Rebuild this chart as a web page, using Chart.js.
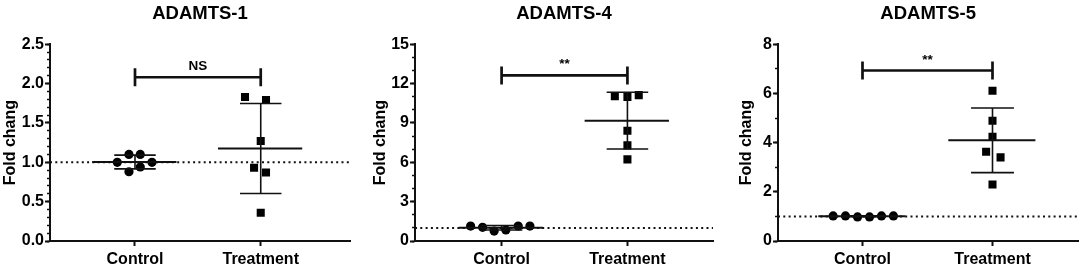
<!DOCTYPE html>
<html>
<head>
<meta charset="utf-8">
<script src="https://cdn.jsdelivr.net/npm/chart.js@4.4.0/dist/chart.umd.min.js"></script>
<style>
  html, body { margin: 0; padding: 0; background: #fff; }
  .panel { position: absolute; top: 0; height: 272px; }
</style>
</head>
<body>
<div class="panel" style="left:0;width:360px"><canvas id="c1"></canvas></div>
<div class="panel" style="left:360px;width:360px"><canvas id="c2"></canvas></div>
<div class="panel" style="left:720px;width:364px"><canvas id="c3"></canvas></div>
<script>
const groups = ['Control', 'Treatment'];
const titles = ['ADAMTS-1', 'ADAMTS-4', 'ADAMTS-5'];
const sigLabels = ['NS', '**', '**'];
const sigLevels = [2.08, 12.62, 6.93];
const refLevel = 1;

// fold change values
const control1 = [1.10, 1.10, 1.00, 1.00, 0.94, 0.88];
const treatment1 = [1.83, 1.79, 1.27, 0.93, 0.87, 0.36];
const control4 = [1.14, 1.04, 0.76, 0.84, 1.14, 1.14];
const treatment4 = [11.04, 10.97, 11.12, 8.40, 7.29, 6.22];
const control5 = [1.02, 1.02, 0.98, 0.98, 1.02, 1.02];
const treatment5 = [6.11, 4.89, 4.24, 3.63, 3.40, 2.30];

// sideways scatter of the dots inside a column (fraction of column spacing)
const ctrlSpread1 = [-0.048, 0.042, -0.141, 0.135, 0.042, -0.048];
const treatSpread1 = [-0.125, 0.042, 0, -0.053, 0.042, 0];
const ctrlSpread4 = [-0.246, -0.151, -0.059, 0.034, 0.132, 0.225];
const treatSpread4 = [-0.10, 0, 0.09, 0, 0, 0];
const ctrlSpread5 = [-0.226, -0.131, -0.038, 0.054, 0.146, 0.238];
const treatSpread5 = [0, 0, 0, -0.049, 0.062, 0];

// y axis ranges
const yMax = [2.5, 15, 8];
const yStep = [0.5, 3, 2];
const yMinorStep = [0.1, 1, 1];

const FONT = '"Liberation Sans", Arial, sans-serif';
const INK = '#111';

function mean(a) {
    return a.reduce((s, v) => s + v, 0) / a.length;
}
function sd(a) {
    const m = mean(a);
    return Math.sqrt(a.reduce((s, v) => s + (v - m) * (v - m), 0) / (a.length - 1));
}

// horizontal bracket with label between the two columns
const bracketPlugin = {
    id: 'bracket',
    afterDatasetsDraw(chart, args, opts) {
        const ctx = chart.ctx;
        const xs = chart.scales.x, ys = chart.scales.y;
        const x1 = xs.getPixelForValue(1), x2 = xs.getPixelForValue(2);
        const yb = ys.getPixelForValue(opts.level);
        ctx.save();
        ctx.strokeStyle = INK;
        ctx.lineWidth = 2.7;
        ctx.beginPath();
        ctx.moveTo(x1, yb - 9); ctx.lineTo(x1, yb + 9);
        ctx.moveTo(x1, yb); ctx.lineTo(x2, yb);
        ctx.moveTo(x2, yb - 9); ctx.lineTo(x2, yb + 9);
        ctx.stroke();
        ctx.fillStyle = '#000';
        ctx.font = 'bold 13.5px ' + FONT;
        ctx.textAlign = 'center';
        ctx.textBaseline = 'alphabetic';
        ctx.fillText(opts.text, (x1 + x2) / 2, yb - 7);
        ctx.restore();
    }
};

function makePanel(id, i, ctrl, treat, ctrlSpread, treatSpread, lay) {
    const datasets = [];
    // dotted reference line at 1
    datasets.push({
        data: [{x: lay.xMin, y: refLevel}, {x: lay.xMax, y: refLevel}],
        showLine: true, borderColor: INK, borderWidth: 2, borderDash: [2, 3.3],
        pointRadius: 0
    });
    [ctrl, treat].forEach((vals, g) => {
        const c = g + 1, m = mean(vals), s = sd(vals);
        datasets.push({
            data: [{x: c - 0.34, y: m}, {x: c + 0.33, y: m}],
            showLine: true, borderColor: INK, borderWidth: 2, pointRadius: 0
        });
        datasets.push({
            data: [
                {x: c - 0.165, y: m + s}, {x: c + 0.165, y: m + s}, {x: c, y: null},
                {x: c, y: m + s}, {x: c, y: m - s}, {x: c, y: null},
                {x: c - 0.165, y: m - s}, {x: c + 0.165, y: m - s}
            ],
            showLine: true, spanGaps: false, borderColor: INK, borderWidth: 1.6, pointRadius: 0
        });
    });
    datasets.push({
        data: ctrl.map((v, k) => ({x: 1 + ctrlSpread[k], y: v})),
        pointStyle: 'circle', pointRadius: 4.6,
        backgroundColor: '#000', borderColor: '#000', borderWidth: 0
    });
    datasets.push({
        data: treat.map((v, k) => ({x: 2 + treatSpread[k], y: v})),
        pointStyle: 'rect', pointRadius: 5.7,
        backgroundColor: '#000', borderColor: '#000', borderWidth: 0
    });

    new Chart(document.getElementById(id), {
        type: 'scatter',
        data: {datasets: datasets},
        plugins: [bracketPlugin],
        options: {
            maintainAspectRatio: false,
            responsive: true,
            animation: false,
            layout: {padding: {left: lay.padLeft, right: lay.padRight, top: 0, bottom: 0}},
            plugins: {
                legend: {display: false},
                tooltip: {enabled: false},
                title: {
                    display: true, text: titles[i], fullSize: false, color: '#000',
                    font: {family: FONT, size: 18.5, weight: 'bold', lineHeight: 1.2},
                    padding: {top: 3, bottom: 19}
                },
                bracket: {level: sigLevels[i], text: sigLabels[i]}
            },
            scales: {
                x: {
                    type: 'linear', min: lay.xMin, max: lay.xMax,
                    afterBuildTicks: (s) => { s.ticks = [{value: 1}, {value: 2}]; },
                    afterFit: (s) => { s.height = 31; },
                    ticks: {
                        callback: (v) => groups[v - 1], color: '#000', padding: 4,
                        font: {family: FONT, size: 16, weight: 'bold'}
                    },
                    grid: {drawOnChartArea: false, tickLength: 5, tickWidth: 2, tickColor: INK},
                    border: {color: INK, width: 2}
                },
                y: {
                    type: 'linear', min: 0, max: yMax[i], weight: 1,
                    afterFit: (s) => { s.width = lay.yWidth; },
                    ticks: {
                        stepSize: yStep[i], autoSkip: false, color: '#000', padding: 1,
                        font: {family: FONT, size: 16, weight: 'bold'},
                        callback: (v) => i === 0 ? v.toFixed(1) : String(v)
                    },
                    title: {
                        display: true, text: 'Fold chang', color: '#000',
                        font: {family: FONT, size: 16, weight: 'bold', lineHeight: 1.2},
                        padding: {top: 1.4, bottom: 0}
                    },
                    grid: {drawOnChartArea: false, tickLength: 5, tickWidth: 2, tickColor: INK},
                    border: {color: INK, width: 2}
                },
                yMinor: {
                    type: 'linear', position: 'left', min: 0, max: yMax[i], weight: 0,
                    afterFit: (s) => { s.width = 0; },
                    ticks: {display: false, stepSize: yMinorStep[i], autoSkip: false},
                    grid: {drawOnChartArea: false, tickLength: 3, tickWidth: 1.5, tickColor: INK},
                    border: {display: false}
                }
            }
        }
    });
}

makePanel('c1', 0, control1, treatment1, ctrlSpread1, treatSpread1,
    {padLeft: 0, padRight: 10, yWidth: 50, xMin: 0.324, xMax: 2.71});
makePanel('c2', 1, control4, treatment4, ctrlSpread4, treatSpread4,
    {padLeft: 10, padRight: 7, yWidth: 45, xMin: 0.312, xMax: 2.68});
makePanel('c3', 2, control5, treatment5, ctrlSpread5, treatSpread5,
    {padLeft: 16, padRight: 5, yWidth: 42, xMin: 0.35, xMax: 2.66});
</script>
</body>
</html>
